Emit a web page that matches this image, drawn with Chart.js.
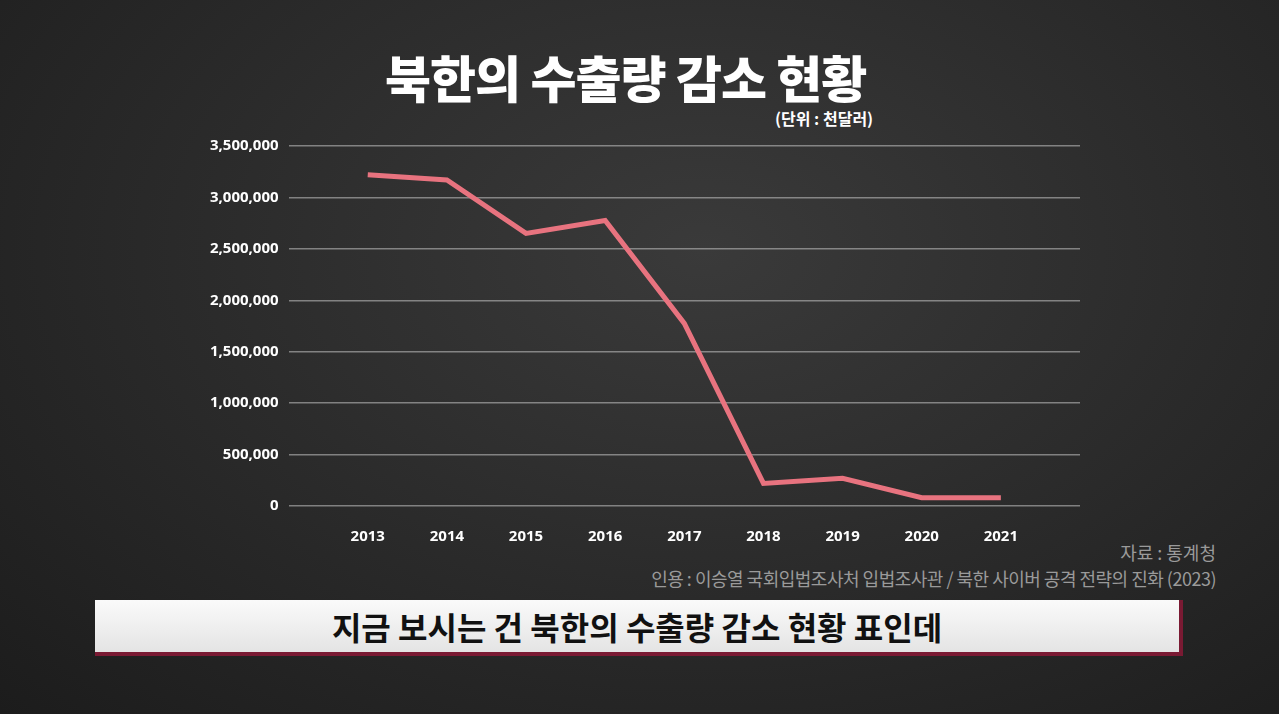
<!DOCTYPE html>
<html><head><meta charset="utf-8">
<script src="https://cdn.jsdelivr.net/npm/chart.js@4"></script>
<style>
body{margin:0;width:1279px;height:714px;overflow:hidden;font-family:"Noto Sans CJK KR","Noto Sans",sans-serif;
 background:radial-gradient(ellipse at 55% 35%,#3a3a3a 0%,#2b2b2b 50%,#1c1c1c 100%);position:relative}
.t{position:absolute;color:#fff;white-space:nowrap}
#wrap{position:absolute;left:200px;top:127px;width:880px;height:433px}
#box{position:absolute;left:95px;top:600px;width:1084px;height:52px;background:linear-gradient(#fafafa,#e4e4e4);
 border-right:4px solid #7a1a33;border-bottom:4px solid #7a1a33;text-align:center;font-size:32px;font-weight:700;line-height:52px;color:#111}
</style></head><body>
<div class="t" style="left:385px;top:40px;font-size:50px;font-weight:900;letter-spacing:-1px">북한의 수출량 감소 현황</div>
<div class="t" style="left:775px;top:106px;font-size:16px;font-weight:700">(단위 : 천달러)</div>
<div id="wrap"><canvas id="c"></canvas></div>
<div class="t" style="right:63px;top:539px;font-size:18px;color:#9a9a9a">자료 : 통계청</div>
<div class="t" style="right:63px;top:565px;font-size:18px;color:#9a9a9a;letter-spacing:-0.5px">인용 : 이승열 국회입법조사처 입법조사관 / 북한 사이버 공격 전략의 진화 (2023)</div>
<div id="box">지금 보시는 건 북한의 수출량 감소 현황 표인데</div>
<script>
const years = [2013, 2014, 2015, 2016, 2017, 2018, 2019, 2020, 2021];
const exportsValue = [3220000, 3170000, 2650000, 2775000, 1775000, 220000, 270000, 80000, 80000];
const yTicks = [0, 500000, 1000000, 1500000, 2000000, 2500000, 3000000, 3500000];

new Chart(document.getElementById('c'), {
  type: 'line',
  data: {
    datasets: [{
      data: years.map((y, i) => ({ x: y, y: exportsValue[i] })),
      borderColor: '#e8737f', borderWidth: 5, pointRadius: 0, tension: 0
    }]
  },
  options: {
    responsive: true, maintainAspectRatio: false, animation: false,
    layout: { padding: { top: 12 } },
    plugins: { legend: { display: false }, tooltip: { enabled: false } },
    scales: {
      x: {
        type: 'linear', min: 2012, max: 2022,
        grid: { display: false }, border: { display: false },
        afterBuildTicks: s => { s.ticks = years.map(v => ({ value: v })); },
        ticks: { color: '#fff', font: { size: 15, weight: 'bold', family: 'Noto Sans' }, padding: 14, callback: v => String(v) }
      },
      y: {
        min: 0, max: 3500000,
        afterBuildTicks: s => { s.ticks = yTicks.map(v => ({ value: v })); },
        grid: { color: 'rgba(200,200,200,0.55)', lineWidth: 1.5, drawTicks: false },
        border: { display: false },
        ticks: { color: '#fff', font: { size: 15, weight: 'bold', family: 'Noto Sans' }, padding: 10,
          callback: v => v.toLocaleString('en-US') }
      }
    }
  }
});
</script>
</body></html>
